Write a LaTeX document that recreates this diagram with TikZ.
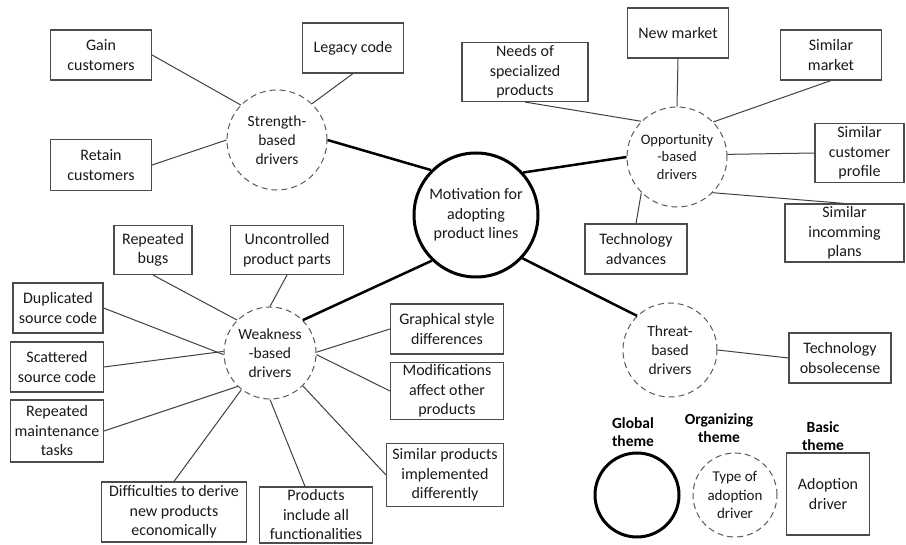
\documentclass[tikz,border=0pt]{standalone}
\usepackage{fontspec}
\setmainfont{Carlito}
\begin{document}
\begin{tikzpicture}[x=1pt,y=-1pt,
  sz/.style 2 args={minimum width=#1pt,minimum height=#2pt},
  box/.style={draw=black!70,line width=1.1pt,align=center,inner sep=0pt,text=black!90,font=\fontsize{16}{19.5}\selectfont},
  org/.style={circle,draw=black!65,dash pattern=on 6pt off 4pt,line width=1pt,align=center,inner sep=0pt,text=black!90,font=\fontsize{15.5}{19}\selectfont},
  glob/.style={circle,draw=black,line width=3pt,align=center,inner sep=0pt,text=black!90,font=\fontsize{16}{19.5}\selectfont},
  lgd/.style={align=center,inner sep=0pt,font=\fontsize{15.5}{18}\selectfont\bfseries},
  conn/.style={draw=black!75,line width=1pt},
  mainc/.style={draw=black,line width=2.5pt}]
\useasboundingbox (0,0) rectangle (906,545);

% central
\node[glob,minimum size=124pt] (mot) at (476,215) {Motivation for\\adopting\\product lines};

% strength
\node[org,minimum size=100pt] (str) at (277,140) {Strength-\\based\\drivers};
\node[box,sz={101}{50}] (gain) at (101,55) {Gain\\customers};
\node[box,sz={101}{50}] (legacy) at (353,48) {Legacy code};
\node[box,sz={101}{51}] (retain) at (101,165) {Retain\\customers};

% opportunity
\node[org,minimum size=100pt,font=\fontsize{14.5}{17.5}\selectfont] (opp) at (677,157) {Opportunity\\-based\\drivers};
\node[box,sz={126}{59}] (needs) at (525,72) {Needs of\\specialized\\products};
\node[box,sz={101}{50}] (newm) at (678,33) {New market};
\node[box,sz={101}{50}] (simm) at (831,55) {Similar\\market};
\node[box,sz={89}{59}] (simc) at (859.5,153) {Similar\\customer\\profile};
\node[box,sz={119}{58}] (simi) at (844.5,233) {Similar\\incomming\\plans};
\node[box,sz={102}{50}] (tech) at (636,249) {Technology\\advances};

% weakness
\node[org,minimum size=92pt] (weak) at (270,353) {Weakness\\-based\\drivers};
\node[box,sz={78}{49}] (rbugs) at (153,250) {Repeated\\bugs};
\node[box,sz={113}{49}] (unc) at (287,250) {Uncontrolled\\product parts};
\node[box,sz={90}{50}] (dup) at (58,308) {Duplicated\\source code};
\node[box,sz={93}{50}] (scat) at (57,367) {Scattered\\source code};
\node[box,sz={93}{62}] (maint) at (57,431) {Repeated\\maintenance\\tasks};
\node[box,sz={145}{60}] (diff) at (174,512) {Difficulties to derive\\new products\\economically};
\node[box,sz={113}{56}] (prod) at (316,515) {Products\\include all\\functionalities};
\node[box,sz={113}{50}] (graph) at (447,329) {Graphical style\\differences};
\node[box,sz={113}{57}] (modif) at (447,391) {Modifications\\affect other\\products};
\node[box,sz={117}{63}] (simp) at (445,475) {Similar products\\implemented\\differently};

% threat
\node[org,minimum size=94pt] (threat) at (670,350) {Threat-\\based\\drivers};
\node[box,sz={102}{50}] (tobs) at (840,358) {Technology\\obsolecense};

% legend
\node[lgd] (lg1) at (633,432) {Global\\theme};
\node[lgd] (lg2) at (719,428) {Organizing\\theme};
\node[lgd] (lg3) at (823,436) {Basic\\theme};
\node[glob,minimum size=84pt] (lc1) at (637,495) {};
\node[org,minimum size=84pt,font=\fontsize{15}{18.5}\selectfont] (lc2) at (735,495) {Type of\\adoption\\driver};
\node[box,sz={83}{82}] (lb) at (828,494) {Adoption\\driver};

% connectors: main
\draw[mainc] (str.0) -- (mot.135);
\draw[mainc] (mot.42) -- (opp.180);
\draw[mainc] (mot.-134) -- (weak.45);
\draw[mainc] (mot.-43) -- (threat.134);

% strength
\draw[conn] (gain.east) -- (str.136);
\draw[conn] (legacy.south) -- (str.46);
\draw[conn] (retain.east) -- (str.180);

% opportunity
\draw[conn] (needs.south) -- (opp.135);
\draw[conn] (newm.south) -- (opp.90);
\draw[conn] (simm.south) -- (opp.44);
\draw[conn] (simc.west) -- (opp.3);
\draw[conn] (simi.north) -- (opp.-45);
\draw[conn] (tech.north) -- (opp.-135);

% weakness
\draw[conn] (rbugs.south) -- (weak.135);
\draw[conn] (unc.south) -- (weak.90);
\draw[conn] (dup.east) -- (weak.182);
\draw[conn] (scat.east) -- (weak.178);
\draw[conn] (maint.east) -- (weak.-134);
\draw[conn] (diff.north) -- (weak.-128);
\draw[conn] ([xshift=-11pt]prod.north) -- (weak.-90);
\draw[conn] (simp.west) -- (weak.-45);
\draw[conn] (graph.west) -- (weak.1);
\draw[conn] (modif.west) -- (weak.-2);

% threat
\draw[conn] (tobs.west) -- (threat.0);
\end{tikzpicture}
\end{document}
